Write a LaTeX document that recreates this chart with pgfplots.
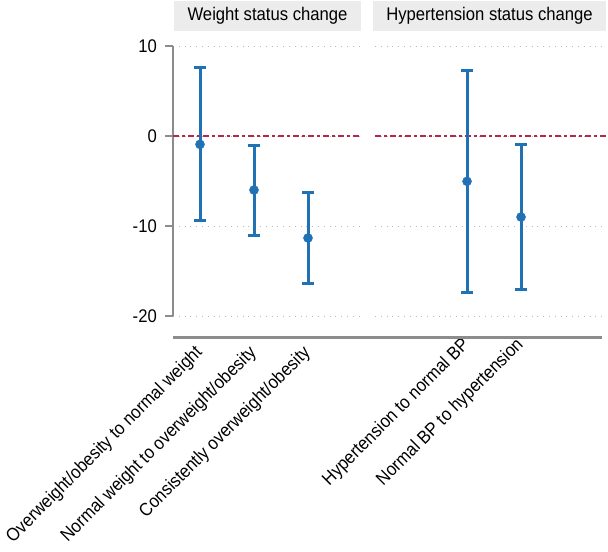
\documentclass[border=0pt]{standalone}
\usepackage{pgfplots}
\pgfplotsset{compat=1.18}
\usepackage{pgfplotstable}
\usepackage{fontspec}
\setmainfont{Liberation Sans}[FakeStretch=0.91]

\definecolor{barblue}{RGB}{33,113,181}
\definecolor{refred}{RGB}{180,40,75}
\definecolor{axgray}{RGB}{140,140,140}
\definecolor{stripgray}{RGB}{236,236,236}

% estimates and CI bounds
\pgfplotstableread{
x  y      ep     em
1  -0.93  8.56   8.51
2  -6.00  4.96   5.00
3  -11.33 5.07   5.07
}\weight
\pgfplotstableread{
x  y      ep     em
1  -5.04  12.37  12.33
2  -9.00  8.07   8.07
}\hyper

\pgfplotsset{
  panel/.style={
    scale only axis, height=302bp,
    ymin=-22.44, ymax=11.11,
    ytick={-20,-10,0,10},
    axis line style={draw=none},
    ymajorgrids, grid style={gray!55, line width=0.8bp, dash pattern=on 0.8bp off 5bp},
    xtick style={draw=none},
    xtick={1,2,3},
    xticklabel style={rotate=45, anchor=north east, inner sep=0pt, yshift=6bp, xshift=-3bp},
    font=\fontsize{18.3bp}{21bp}\selectfont,
    clip=false,
  },
  ci/.style={
    barblue, line width=3bp, mark=*, mark size=4.5bp, only marks,
    mark options={line width=0.5bp},
    error bars/y dir=both, error bars/y explicit, error bars/error mark=-,
    error bars/error bar style={line width=3bp, barblue, solid},
    error bars/error mark options={rotate=90, line width=3bp, mark size=6bp, barblue},
  },
}

\begin{document}
\begin{tikzpicture}
\useasboundingbox (0,0) rectangle (608bp,552bp);

% facet strips
\fill[stripgray] (174bp,521bp) rectangle (361bp,551bp);
\fill[stripgray] (373bp,521bp) rectangle (606bp,551bp);
\node[font=\fontsize{18.3bp}{21bp}\selectfont] at (267.5bp,536bp) {Weight status change};
\node[font=\fontsize{18.3bp}{21bp}\selectfont] at (489.5bp,536bp) {Hypertension status change};

\begin{axis}[panel, at={(173bp,214bp)}, anchor=south west,
    width=189bp, xmin=0.5, xmax=4.0,
    yticklabels={-20,-10,0,10},
    ytick pos=left, tick align=outside, major tick length=8bp,
    ytick style={axgray, line width=1.6bp},
    yticklabel style={inner sep=0pt, xshift=-8bp},
    xticklabels={Overweight/obesity to normal weight, Normal weight to overweight/obesity, Consistently overweight/obesity},
  ]
  \draw[axgray, line width=1.6bp] (axis cs:0.5,10) -- (axis cs:0.5,-20);
  \draw[refred, line width=1.3bp, dash pattern=on 6bp off 3bp on 3bp off 3bp] (axis cs:0.5,0) -- (axis cs:4.0,0);
  \addplot[ci] table[x=x, y=y, y error plus=ep, y error minus=em] {\weight};
\end{axis}

\begin{axis}[panel, at={(375bp,214bp)}, anchor=south west,
    width=231bp, xmin=-0.704, xmax=3.574,
    yticklabels={}, ytick style={draw=none},
    xticklabels={Hypertension to normal BP, Normal BP to hypertension},
  ]
  \draw[refred, line width=1.3bp, dash pattern=on 6bp off 3bp on 3bp off 3bp] (axis cs:-0.704,0) -- (axis cs:3.574,0);
  \addplot[ci] table[x=x, y=y, y error plus=ep, y error minus=em] {\hyper};
\end{axis}

% bottom axis line across both panels
\draw[axgray, line width=3bp] (173bp,214bp) -- (602bp,214bp);
\end{tikzpicture}
\end{document}
